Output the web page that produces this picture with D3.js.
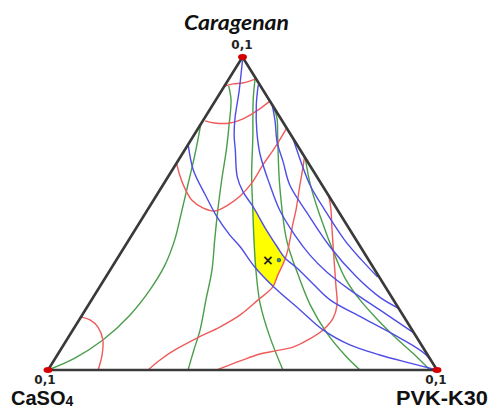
<!DOCTYPE html>
<html>
<head>
<meta charset="utf-8">
<script src="https://cdn.jsdelivr.net/npm/d3@7"></script>
<style>
  body { margin: 0; background: #fff; }
  svg { display: block; }
</style>
</head>
<body>
<svg id="chart" width="490" height="409"></svg>
<script>
// compositions are [Caragenan, PVK-K30] fractions, CaSO4 = 1 - both
const vertices = [[1, 0], [0, 0], [0, 1]];
const vertexLabels = ["Caragenan", "CaSO4", "PVK-K30"];
const vertexTicks = ["0,1", "0,1", "0,1"];

const greenLines = [
  [[0,0],[.038,.050],[.096,.093],[.176,.123],[.256,.134],[.335,.133],[.415,.118],[.495,.094],[.591,.064],[.687,.034],[.783,.001]],
  [[.907,.011],[.863,.039],[.783,.074],[.703,.107],[.607,.143],[.511,.181],[.415,.221],[.319,.262],[.224,.294],[.128,.327],[.064,.343],[0,.360]],
  [[.933,.066],[.863,.096],[.741,.156],[.623,.212],[.511,.271],[.415,.322],[.319,.375],[.214,.438],[.105,.518],[0,.604]],
  [[.843,.157],[.805,.186],[.741,.220],[.591,.300],[.415,.406],[.304,.491],[.208,.570],[.118,.658],[.048,.739],[0,.802]],
  [[.677,.323],[.597,.375],[.495,.451],[.351,.567],[.288,.622],[.224,.690],[.160,.768],[.096,.852],[.048,.919],[0,.982]]
];

const blueLines = [
  [[.99,.005],[.942,.025],[.888,.047],[.808,.077],[.751,.103],[.703,.130],[.617,.178],[.569,.217],[.521,.267],[.454,.331],[.393,.393],[.358,.430],[.326,.477],[.278,.540],[.224,.613],[.166,.727],[.102,.854],[.048,.948],[0,1]],
  [[.719,.001],[.639,.054],[.559,.125],[.489,.190],[.431,.252],[.393,.298],[.329,.367],[.265,.448],[.192,.552],[.128,.643],[.080,.736],[.048,.829],[.022,.920],[0,1]],
  [[.911,.085],[.847,.112],[.760,.157],[.687,.202],[.591,.275],[.511,.340],[.431,.419],[.367,.490],[.313,.560],[.256,.648],[.192,.757],[.121,.877]],
  [[.847,.153],[.792,.188],[.728,.225],[.665,.272],[.591,.326],[.502,.415],[.393,.529],[.297,.645],[.233,.736],[.198,.801]],
  [[.741,.259],[.671,.313],[.591,.378],[.511,.456],[.415,.555],[.351,.631],[.297,.699]]
];

const redLines = [
  [[.907,.001],[.914,.019],[.917,.041],[.923,.057],[.930,.070]],
  [[.796,.006],[.789,.034],[.789,.073],[.805,.103],[.831,.125],[.859,.141]],
  [[.661,0],[.623,.027],[.581,.061],[.543,.098],[.518,.139],[.508,.175],[.527,.199],[.556,.216],[.597,.225],[.655,.225],[.712,.228],[.773,.227]],
  [[.681,.319],[.633,.337],[.591,.352],[.511,.382],[.470,.395],[.383,.425],[.345,.434],[.304,.439],[.265,.445],[.224,.428],[.176,.406],[.137,.373],[.102,.332],[.064,.294],[.032,.272],[0,.257]],
  [[.556,.444],[.511,.472],[.463,.498],[.367,.551],[.272,.604],[.208,.639],[.166,.650],[.128,.643],[.096,.620],[.073,.593],[.061,.554],[.051,.519],[.029,.480],[0,.434]],
  [[.169,.002],[.160,.028],[.137,.060],[.096,.093],[.048,.115],[0,.129]]
];

const optimumRegion = [[.521,.267],[.454,.331],[.393,.393],[.358,.430],[.313,.439],[.265,.448],[.329,.367],[.415,.322],[.511,.271]];
const formulaPoint = [.351, .390];
const checkPoint = [.351, .418];

const svg = d3.select("#chart");

const x = d3.scaleLinear().domain([0, 1]).range([48, 437]);
const y = d3.scaleLinear().domain([0, 1]).range([370, 57]);
const project = d => [x(d[1] + d[0] / 2), y(d[0])];

const line = d3.line()
    .x(d => project(d)[0])
    .y(d => project(d)[1])
    .curve(d3.curveCatmullRom.alpha(0.5));

svg.append("path")
    .datum(optimumRegion)
    .attr("d", d3.line().x(d => project(d)[0]).y(d => project(d)[1]).curve(d3.curveLinearClosed))
    .attr("fill", "#ffff00")
    .attr("stroke", "none");

const groups = [
  {data: greenLines, color: "#4a9e4a"},
  {data: redLines, color: "#f05a5a"},
  {data: blueLines, color: "#4e4ee6"}
];
groups.forEach(g => {
  svg.append("g").selectAll("path")
    .data(g.data)
    .join("path")
      .attr("d", line)
      .attr("fill", "none")
      .attr("stroke", g.color)
      .attr("stroke-width", 1.4);
});

// triangle frame
svg.append("path")
    .datum(vertices)
    .attr("d", d3.line().x(d => project(d)[0]).y(d => project(d)[1]).curve(d3.curveLinearClosed))
    .attr("fill", "none")
    .attr("stroke", "#3a3a3a")
    .attr("stroke-width", 2.6)
    .attr("stroke-linejoin", "round");

svg.append("g").selectAll("ellipse")
  .data(vertices)
  .join("ellipse")
    .attr("cx", d => project(d)[0])
    .attr("cy", d => project(d)[1])
    .attr("rx", 4.5)
    .attr("ry", 3)
    .attr("fill", "#d40000");

// markers in the optimum area
const fp = project(formulaPoint);
svg.append("text")
    .attr("x", fp[0]).attr("y", fp[1] + 4.5)
    .attr("text-anchor", "middle")
    .style("font", "bold 14px 'DejaVu Sans', sans-serif")
    .attr("fill", "#222")
    .text("×");
const cp = project(checkPoint);
svg.append("circle")
    .attr("cx", cp[0]).attr("cy", cp[1]).attr("r", 1.8)
    .attr("fill", "#2a9a8a").attr("stroke", "#225").attr("stroke-width", 0.6);

// labels
const tickPos = [[242, 49], [45, 384], [436, 384]];
svg.append("g").selectAll("text")
  .data(vertexTicks)
  .join("text")
    .attr("x", (d, i) => tickPos[i][0])
    .attr("y", (d, i) => tickPos[i][1])
    .attr("text-anchor", "middle")
    .style("font", "bold 12px 'DejaVu Sans', sans-serif")
    .attr("fill", "#222")
    .text(d => d);

svg.append("text")
    .attr("x", 184).attr("y", 30)
    .attr("textLength", 105).attr("lengthAdjust", "spacingAndGlyphs")
    .style("font", "italic bold 21px Lato, 'Open Sans', sans-serif")
    .attr("fill", "#111")
    .text(vertexLabels[0]);

const cas = svg.append("text")
    .attr("x", 11).attr("y", 405)
    .style("font", "bold 20px 'Liberation Sans', Arial, sans-serif")
    .attr("fill", "#111");
cas.append("tspan").text(vertexLabels[1].slice(0, 4));
cas.append("tspan").attr("dy", 1).style("font-size", "14px").text(vertexLabels[1].slice(4));

svg.append("text")
    .attr("x", 396).attr("y", 405)
    .attr("textLength", 92).attr("lengthAdjust", "spacingAndGlyphs")
    .style("font", "bold 20px 'Liberation Sans', Arial, sans-serif")
    .attr("fill", "#111")
    .text(vertexLabels[2]);
</script>
</body>
</html>
